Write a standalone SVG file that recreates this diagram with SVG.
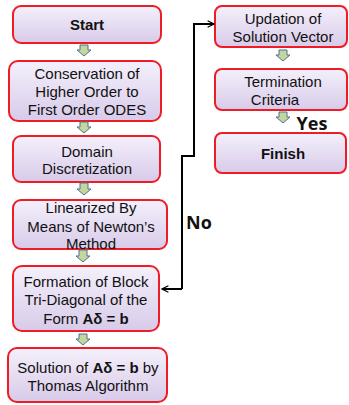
<svg xmlns="http://www.w3.org/2000/svg" width="349" height="405" viewBox="0 0 349 405">
<defs>
<linearGradient id="g" x1="0" y1="0" x2="0" y2="1">
<stop offset="0" stop-color="#f4f0fb"/>
<stop offset="1" stop-color="#d8cae9"/>
</linearGradient>
<marker id="ah" viewBox="0 0 10 10" refX="9" refY="5" markerWidth="8" markerHeight="8" markerUnits="userSpaceOnUse" orient="auto">
<path d="M1,1 L9,5 L1,9" fill="none" stroke="#000" stroke-width="1.5"/>
</marker>
</defs>
<style>
.box{fill:url(#g);stroke:#ee1c25;stroke-width:2}
.t{font-family:"Liberation Sans",Arial,sans-serif;font-size:15px;fill:#111;text-anchor:middle}
.b{font-weight:bold}
.arr{fill:#c3d69b;stroke:#4f7196;stroke-width:1}
.conn{fill:none;stroke:#000;stroke-width:2}
.lbl{font-family:"Open Sans","Liberation Sans",sans-serif;font-size:18px;font-weight:bold;fill:#111;text-anchor:middle}
</style>
<g id="start"><rect class="box" x="13" y="6" width="148" height="37" rx="8"/><text class="t b" x="87" y="30">Start</text></g>
<g id="conservation"><rect class="box" x="9" y="61" width="152" height="60" rx="9"/><text class="t" x="87" y="79">Conservation of</text><text class="t" x="87" y="97">Higher Order to</text><text class="t" x="87" y="115">First Order ODES</text></g>
<g id="domain"><rect class="box" x="13" y="136" width="147" height="46" rx="8"/><text class="t" x="87" y="157">Domain</text><text class="t" x="87" y="174">Discretization</text></g>
<g id="linearized"><rect class="box" x="13" y="200" width="154" height="49" rx="8"/><text class="t" x="91" y="213">Linearized By</text><text class="t" x="91" y="232">Means of Newton’s</text><text class="t" x="91" y="249">Method</text></g>
<g id="formation"><rect class="box" x="13" y="266" width="146" height="65" rx="9"/><text class="t" x="86" y="287">Formation of Block</text><text class="t" x="86" y="305">Tri-Diagonal of the</text><text class="t" x="86" y="324">Form <tspan class="b">Aδ = b</tspan></text></g>
<g id="solution"><rect class="box" x="8" y="348" width="159" height="54" rx="9"/><text class="t" x="88" y="373">Solution of <tspan class="b">Aδ = b</tspan> by</text><text class="t" x="88" y="391">Thomas Algorithm</text></g>
<g id="updation"><rect class="box" x="215" y="6" width="132" height="41" rx="7"/><text class="t" x="283" y="24">Updation of</text><text class="t" x="283" y="42">Solution Vector</text></g>
<g id="termination"><rect class="box" x="215" y="69" width="132" height="41" rx="7"/><text class="t" x="283" y="87">Termination</text><text class="t" x="275" y="105">Criteria</text></g>
<g id="finish"><rect class="box" x="215" y="133" width="131" height="40" rx="7"/><text class="t b" x="283" y="159">Finish</text></g>
<g id="connectors">
<path class="arr" d="M80,45 H88 V50 H91 L84,56 L77,50 H80 Z"/>
<path class="arr" d="M80,122 H88 V127 H91 L84,133 L77,127 H80 Z"/>
<path class="arr" d="M80,183 H88 V189 H91 L84,195 L77,189 H80 Z"/>
<path class="arr" d="M79,250 H87 V256 H90 L83,262 L76,256 H79 Z"/>
<path class="arr" d="M79,334 H87 V339 H90 L83,345 L76,339 H79 Z"/>
<path class="arr" d="M279,50 H287 V55 H290 L283,61 L276,55 H279 Z"/>
<path class="arr" d="M279,112 H287 V117 H290 L283,123 L276,117 H279 Z"/>
<path class="conn" d="M182,289 V156 H194 V24 H214" marker-end="url(#ah)"/>
<path class="conn" d="M182,289 H162" marker-end="url(#ah)"/>
<text class="lbl" x="199" y="229">No</text>
<text class="lbl" x="312" y="130">Yes</text>
</g>
</svg>
